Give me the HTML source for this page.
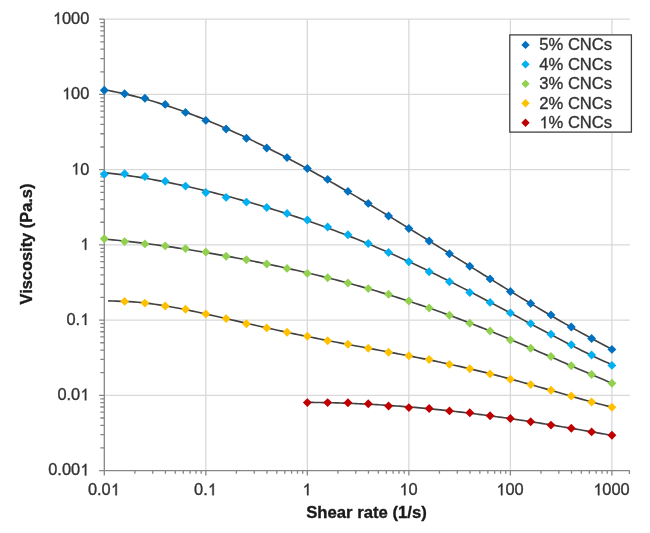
<!DOCTYPE html><html><head><meta charset="utf-8"><style>html,body{margin:0;padding:0;background:#fff}svg{display:block;will-change:transform;filter:blur(0.35px)}text{font-family:"Liberation Sans",sans-serif;stroke-width:0.35px}</style></head><body>
<svg width="650" height="533" viewBox="0 0 650 533">
<rect width="650" height="533" fill="#fff"/>
<path d="M104.30 19.20H629.8 M104.30 94.43H629.8 M104.30 169.66H629.8 M104.30 244.89H629.8 M104.30 320.12H629.8 M104.30 395.35H629.8 M205.82 19.20V470.58 M307.34 19.20V470.58 M408.86 19.20V470.58 M510.38 19.20V470.58 M611.90 19.20V470.58" stroke="#d9d9d9" stroke-width="1.3" fill="none"/>
<path d="M104.30 19.20V470.58H629.8 M99.10 470.58H104.3 M100.30 447.93H104.3 M100.30 434.69H104.3 M100.30 425.29H104.3 M100.30 418.00H104.3 M100.30 412.04H104.3 M100.30 407.00H104.3 M100.30 402.64H104.3 M100.30 398.79H104.3 M99.10 395.35H104.3 M100.30 372.70H104.3 M100.30 359.46H104.3 M100.30 350.06H104.3 M100.30 342.77H104.3 M100.30 336.81H104.3 M100.30 331.77H104.3 M100.30 327.41H104.3 M100.30 323.56H104.3 M99.10 320.12H104.3 M100.30 297.47H104.3 M100.30 284.23H104.3 M100.30 274.83H104.3 M100.30 267.54H104.3 M100.30 261.58H104.3 M100.30 256.54H104.3 M100.30 252.18H104.3 M100.30 248.33H104.3 M99.10 244.89H104.3 M100.30 222.24H104.3 M100.30 209.00H104.3 M100.30 199.60H104.3 M100.30 192.31H104.3 M100.30 186.35H104.3 M100.30 181.31H104.3 M100.30 176.95H104.3 M100.30 173.10H104.3 M99.10 169.66H104.3 M100.30 147.01H104.3 M100.30 133.77H104.3 M100.30 124.37H104.3 M100.30 117.08H104.3 M100.30 111.12H104.3 M100.30 106.08H104.3 M100.30 101.72H104.3 M100.30 97.87H104.3 M99.10 94.43H104.3 M100.30 71.78H104.3 M100.30 58.54H104.3 M100.30 49.14H104.3 M100.30 41.85H104.3 M100.30 35.89H104.3 M100.30 30.85H104.3 M100.30 26.49H104.3 M100.30 22.64H104.3 M99.10 19.20H104.3 M104.30 470.58V475.58 M134.86 470.58V473.78 M152.74 470.58V473.78 M165.42 470.58V473.78 M175.26 470.58V473.78 M183.30 470.58V473.78 M190.09 470.58V473.78 M195.98 470.58V473.78 M201.17 470.58V473.78 M205.82 470.58V475.58 M236.38 470.58V473.78 M254.26 470.58V473.78 M266.94 470.58V473.78 M276.78 470.58V473.78 M284.82 470.58V473.78 M291.61 470.58V473.78 M297.50 470.58V473.78 M302.69 470.58V473.78 M307.34 470.58V475.58 M337.90 470.58V473.78 M355.78 470.58V473.78 M368.46 470.58V473.78 M378.30 470.58V473.78 M386.34 470.58V473.78 M393.13 470.58V473.78 M399.02 470.58V473.78 M404.21 470.58V473.78 M408.86 470.58V475.58 M439.42 470.58V473.78 M457.30 470.58V473.78 M469.98 470.58V473.78 M479.82 470.58V473.78 M487.86 470.58V473.78 M494.65 470.58V473.78 M500.54 470.58V473.78 M505.73 470.58V473.78 M510.38 470.58V475.58 M540.94 470.58V473.78 M558.82 470.58V473.78 M571.50 470.58V473.78 M581.34 470.58V473.78 M589.38 470.58V473.78 M596.17 470.58V473.78 M602.06 470.58V473.78 M607.25 470.58V473.78 M611.90 470.58V475.58 M629.40 470.58V473.98" stroke="#868686" stroke-width="1.3" fill="none"/>
<path d="M104.30 89.74 L108.57 90.50 L112.83 91.32 L117.10 92.19 L121.36 93.11 L125.63 94.07 L129.89 95.08 L134.16 96.13 L138.42 97.23 L142.69 98.37 L146.96 99.56 L151.22 100.79 L155.49 102.06 L159.75 103.37 L164.02 104.72 L168.28 106.11 L172.55 107.54 L176.81 109.01 L181.08 110.51 L185.35 112.05 L189.61 113.63 L193.88 115.24 L198.14 116.89 L202.41 118.57 L206.67 120.28 L210.94 122.02 L215.20 123.80 L219.47 125.61 L223.74 127.45 L228.00 129.32 L232.27 131.21 L236.53 133.14 L240.80 135.10 L245.06 137.08 L249.33 139.09 L253.59 141.12 L257.86 143.18 L262.13 145.27 L266.39 147.38 L270.66 149.51 L274.92 151.67 L279.19 153.85 L283.45 156.06 L287.72 158.28 L291.98 160.53 L296.25 162.80 L300.52 165.08 L304.78 167.39 L309.05 169.72 L313.31 172.06 L317.58 174.42 L321.84 176.80 L326.11 179.20 L330.37 181.61 L334.64 184.04 L338.91 186.48 L343.17 188.94 L347.44 191.42 L351.70 193.90 L355.97 196.40 L360.23 198.92 L364.50 201.44 L368.76 203.98 L373.03 206.53 L377.29 209.09 L381.56 211.66 L385.83 214.24 L390.09 216.82 L394.36 219.42 L398.62 222.02 L402.89 224.64 L407.15 227.25 L411.42 229.88 L415.68 232.51 L419.95 235.15 L424.22 237.79 L428.48 240.43 L432.75 243.08 L437.01 245.73 L441.28 248.38 L445.54 251.04 L449.81 253.70 L454.07 256.35 L458.34 259.01 L462.61 261.67 L466.87 264.32 L471.14 266.98 L475.40 269.63 L479.67 272.28 L483.93 274.93 L488.20 277.57 L492.46 280.20 L496.73 282.83 L501.00 285.46 L505.26 288.08 L509.53 290.69 L513.79 293.29 L518.06 295.88 L522.32 298.47 L526.59 301.04 L530.85 303.60 L535.12 306.16 L539.39 308.69 L543.65 311.22 L547.92 313.73 L552.18 316.23 L556.45 318.71 L560.71 321.17 L564.98 323.62 L569.24 326.05 L573.51 328.46 L577.78 330.85 L582.04 333.22 L586.31 335.57 L590.57 337.90 L594.84 340.20 L599.10 342.49 L603.37 344.74 L607.63 346.97 L611.90 349.17" stroke="#424242" stroke-width="1.65" fill="none" stroke-linejoin="round"/>
<path d="M104.30 172.61 L108.57 173.07 L112.83 173.56 L117.10 174.08 L121.36 174.64 L125.63 175.22 L129.89 175.84 L134.16 176.48 L138.42 177.14 L142.69 177.84 L146.96 178.56 L151.22 179.30 L155.49 180.07 L159.75 180.86 L164.02 181.68 L168.28 182.51 L172.55 183.37 L176.81 184.25 L181.08 185.16 L185.35 186.08 L189.61 187.02 L193.88 187.99 L198.14 188.97 L202.41 189.98 L206.67 191.00 L210.94 192.04 L215.20 193.11 L219.47 194.19 L223.74 195.29 L228.00 196.41 L232.27 197.54 L236.53 198.70 L240.80 199.88 L245.06 201.07 L249.33 202.28 L253.59 203.51 L257.86 204.76 L262.13 206.03 L266.39 207.32 L270.66 208.62 L274.92 209.95 L279.19 211.29 L283.45 212.66 L287.72 214.04 L291.98 215.44 L296.25 216.86 L300.52 218.30 L304.78 219.76 L309.05 221.24 L313.31 222.74 L317.58 224.26 L321.84 225.80 L326.11 227.36 L330.37 228.94 L334.64 230.54 L338.91 232.16 L343.17 233.80 L347.44 235.46 L351.70 237.14 L355.97 238.85 L360.23 240.57 L364.50 242.31 L368.76 244.08 L373.03 245.86 L377.29 247.67 L381.56 249.50 L385.83 251.34 L390.09 253.21 L394.36 255.10 L398.62 257.01 L402.89 258.93 L407.15 260.88 L411.42 262.85 L415.68 264.84 L419.95 266.84 L424.22 268.87 L428.48 270.91 L432.75 272.97 L437.01 275.05 L441.28 277.15 L445.54 279.26 L449.81 281.39 L454.07 283.53 L458.34 285.69 L462.61 287.87 L466.87 290.06 L471.14 292.26 L475.40 294.47 L479.67 296.70 L483.93 298.94 L488.20 301.18 L492.46 303.44 L496.73 305.70 L501.00 307.97 L505.26 310.25 L509.53 312.53 L513.79 314.82 L518.06 317.10 L522.32 319.39 L526.59 321.68 L530.85 323.97 L535.12 326.25 L539.39 328.53 L543.65 330.80 L547.92 333.07 L552.18 335.32 L556.45 337.56 L560.71 339.79 L564.98 342.01 L569.24 344.20 L573.51 346.38 L577.78 348.54 L582.04 350.67 L586.31 352.78 L590.57 354.86 L594.84 356.91 L599.10 358.92 L603.37 360.90 L607.63 362.84 L611.90 364.74" stroke="#424242" stroke-width="1.65" fill="none" stroke-linejoin="round"/>
<path d="M104.30 239.12 L108.57 239.48 L112.83 239.87 L117.10 240.27 L121.36 240.70 L125.63 241.15 L129.89 241.61 L134.16 242.10 L138.42 242.60 L142.69 243.12 L146.96 243.66 L151.22 244.21 L155.49 244.78 L159.75 245.36 L164.02 245.96 L168.28 246.57 L172.55 247.19 L176.81 247.83 L181.08 248.47 L185.35 249.14 L189.61 249.81 L193.88 250.49 L198.14 251.19 L202.41 251.90 L206.67 252.61 L210.94 253.34 L215.20 254.09 L219.47 254.84 L223.74 255.60 L228.00 256.37 L232.27 257.16 L236.53 257.95 L240.80 258.76 L245.06 259.57 L249.33 260.40 L253.59 261.24 L257.86 262.09 L262.13 262.95 L266.39 263.83 L270.66 264.71 L274.92 265.61 L279.19 266.52 L283.45 267.44 L287.72 268.37 L291.98 269.32 L296.25 270.28 L300.52 271.25 L304.78 272.24 L309.05 273.24 L313.31 274.25 L317.58 275.28 L321.84 276.33 L326.11 277.38 L330.37 278.46 L334.64 279.54 L338.91 280.65 L343.17 281.77 L347.44 282.90 L351.70 284.05 L355.97 285.22 L360.23 286.41 L364.50 287.61 L368.76 288.83 L373.03 290.06 L377.29 291.32 L381.56 292.59 L385.83 293.88 L390.09 295.19 L394.36 296.51 L398.62 297.86 L402.89 299.22 L407.15 300.60 L411.42 302.00 L415.68 303.42 L419.95 304.86 L424.22 306.31 L428.48 307.79 L432.75 309.28 L437.01 310.79 L441.28 312.32 L445.54 313.87 L449.81 315.44 L454.07 317.02 L458.34 318.63 L462.61 320.25 L466.87 321.88 L471.14 323.54 L475.40 325.21 L479.67 326.89 L483.93 328.60 L488.20 330.31 L492.46 332.05 L496.73 333.79 L501.00 335.55 L505.26 337.33 L509.53 339.11 L513.79 340.91 L518.06 342.72 L522.32 344.54 L526.59 346.37 L530.85 348.21 L535.12 350.05 L539.39 351.90 L543.65 353.76 L547.92 355.62 L552.18 357.48 L556.45 359.35 L560.71 361.21 L564.98 363.08 L569.24 364.95 L573.51 366.81 L577.78 368.66 L582.04 370.51 L586.31 372.36 L590.57 374.19 L594.84 376.01 L599.10 377.82 L603.37 379.61 L607.63 381.39 L611.90 383.15" stroke="#424242" stroke-width="1.65" fill="none" stroke-linejoin="round"/>
<path d="M108.10 300.90 L112.33 301.04 L116.57 301.18 L120.80 301.31 L125.03 301.45 L129.27 301.64 L133.50 301.90 L137.74 302.24 L141.97 302.64 L146.20 303.11 L150.44 303.63 L154.67 304.21 L158.90 304.83 L163.14 305.50 L167.37 306.22 L171.60 306.96 L175.84 307.75 L180.07 308.56 L184.31 309.40 L188.54 310.27 L192.77 311.15 L197.01 312.06 L201.24 312.98 L205.47 313.92 L209.71 314.86 L213.94 315.82 L218.17 316.78 L222.41 317.75 L226.64 318.72 L230.87 319.70 L235.11 320.67 L239.34 321.65 L243.58 322.62 L247.81 323.59 L252.04 324.55 L256.28 325.51 L260.51 326.47 L264.74 327.42 L268.98 328.36 L273.21 329.29 L277.44 330.21 L281.68 331.13 L285.91 332.04 L290.15 332.94 L294.38 333.83 L298.61 334.71 L302.85 335.58 L307.08 336.45 L311.31 337.30 L315.55 338.15 L319.78 338.99 L324.01 339.82 L328.25 340.65 L332.48 341.47 L336.72 342.28 L340.95 343.09 L345.18 343.89 L349.42 344.69 L353.65 345.48 L357.88 346.27 L362.12 347.06 L366.35 347.85 L370.58 348.64 L374.82 349.42 L379.05 350.21 L383.28 351.00 L387.52 351.79 L391.75 352.59 L395.99 353.39 L400.22 354.20 L404.45 355.01 L408.69 355.82 L412.92 356.65 L417.15 357.48 L421.39 358.32 L425.62 359.18 L429.85 360.04 L434.09 360.91 L438.32 361.80 L442.56 362.69 L446.79 363.60 L451.02 364.52 L455.26 365.46 L459.49 366.41 L463.72 367.37 L467.96 368.35 L472.19 369.35 L476.42 370.36 L480.66 371.38 L484.89 372.42 L489.13 373.48 L493.36 374.55 L497.59 375.63 L501.83 376.73 L506.06 377.85 L510.29 378.98 L514.53 380.12 L518.76 381.27 L522.99 382.44 L527.23 383.61 L531.46 384.80 L535.69 386.00 L539.93 387.20 L544.16 388.41 L548.40 389.63 L552.63 390.85 L556.86 392.07 L561.10 393.29 L565.33 394.51 L569.56 395.73 L573.80 396.94 L578.03 398.14 L582.26 399.34 L586.50 400.51 L590.73 401.68 L594.97 402.82 L599.20 403.94 L603.43 405.04 L607.67 406.10 L611.90 407.14" stroke="#424242" stroke-width="1.65" fill="none" stroke-linejoin="round"/>
<path d="M307.34 402.38 L309.90 402.40 L312.46 402.42 L315.02 402.45 L317.58 402.48 L320.14 402.52 L322.70 402.57 L325.26 402.62 L327.81 402.67 L330.37 402.73 L332.93 402.79 L335.49 402.86 L338.05 402.94 L340.61 403.02 L343.17 403.10 L345.73 403.19 L348.29 403.28 L350.85 403.38 L353.41 403.49 L355.97 403.60 L358.53 403.71 L361.09 403.83 L363.65 403.95 L366.20 404.08 L368.76 404.21 L371.32 404.35 L373.88 404.50 L376.44 404.64 L379.00 404.80 L381.56 404.95 L384.12 405.12 L386.68 405.28 L389.24 405.46 L391.80 405.63 L394.36 405.81 L396.92 406.00 L399.48 406.19 L402.04 406.39 L404.59 406.59 L407.15 406.79 L409.71 407.00 L412.27 407.22 L414.83 407.44 L417.39 407.66 L419.95 407.89 L422.51 408.12 L425.07 408.36 L427.63 408.60 L430.19 408.85 L432.75 409.10 L435.31 409.35 L437.87 409.61 L440.43 409.88 L442.98 410.14 L445.54 410.42 L448.10 410.69 L450.66 410.97 L453.22 411.26 L455.78 411.55 L458.34 411.84 L460.90 412.14 L463.46 412.44 L466.02 412.75 L468.58 413.05 L471.14 413.37 L473.70 413.69 L476.26 414.01 L478.81 414.33 L481.37 414.66 L483.93 414.99 L486.49 415.33 L489.05 415.67 L491.61 416.01 L494.17 416.36 L496.73 416.71 L499.29 417.07 L501.85 417.42 L504.41 417.79 L506.97 418.15 L509.53 418.52 L512.09 418.89 L514.65 419.27 L517.20 419.64 L519.76 420.02 L522.32 420.41 L524.88 420.80 L527.44 421.19 L530.00 421.58 L532.56 421.98 L535.12 422.38 L537.68 422.78 L540.24 423.18 L542.80 423.59 L545.36 424.00 L547.92 424.41 L550.48 424.83 L553.04 425.25 L555.59 425.67 L558.15 426.09 L560.71 426.51 L563.27 426.94 L565.83 427.37 L568.39 427.80 L570.95 428.24 L573.51 428.67 L576.07 429.11 L578.63 429.55 L581.19 429.99 L583.75 430.44 L586.31 430.88 L588.87 431.33 L591.43 431.78 L593.98 432.23 L596.54 432.68 L599.10 433.13 L601.66 433.59 L604.22 434.04 L606.78 434.50 L609.34 434.96 L611.90 435.42" stroke="#424242" stroke-width="1.65" fill="none" stroke-linejoin="round"/>
<path d="M104.30 85.75L108.75 90.20L104.30 94.65L99.85 90.20ZM124.60 89.35L129.05 93.80L124.60 98.25L120.15 93.80ZM144.91 93.75L149.36 98.20L144.91 102.65L140.46 98.20ZM165.21 99.95L169.66 104.40L165.21 108.85L160.76 104.40ZM185.52 107.95L189.97 112.40L185.52 116.85L181.07 112.40ZM205.82 115.95L210.27 120.40L205.82 124.85L201.37 120.40ZM226.12 124.55L230.57 129.00L226.12 133.45L221.67 129.00ZM246.43 133.75L250.88 138.20L246.43 142.65L241.98 138.20ZM266.73 143.55L271.18 148.00L266.73 152.45L262.28 148.00ZM287.04 153.15L291.49 157.60L287.04 162.05L282.59 157.60ZM307.34 164.05L311.79 168.50L307.34 172.95L302.89 168.50ZM327.64 174.95L332.09 179.40L327.64 183.85L323.19 179.40ZM347.95 186.95L352.40 191.40L347.95 195.85L343.50 191.40ZM368.25 198.95L372.70 203.40L368.25 207.85L363.80 203.40ZM388.56 211.55L393.01 216.00L388.56 220.45L384.11 216.00ZM408.86 224.05L413.31 228.50L408.86 232.95L404.41 228.50ZM429.16 236.55L433.61 241.00L429.16 245.45L424.71 241.00ZM449.47 249.25L453.92 253.70L449.47 258.15L445.02 253.70ZM469.77 261.85L474.22 266.30L469.77 270.75L465.32 266.30ZM490.08 274.45L494.53 278.90L490.08 283.35L485.63 278.90ZM510.38 287.05L514.83 291.50L510.38 295.95L505.93 291.50ZM530.68 299.05L535.13 303.50L530.68 307.95L526.23 303.50ZM550.99 310.45L555.44 314.90L550.99 319.35L546.54 314.90ZM571.29 322.55L575.74 327.00L571.29 331.45L566.84 327.00ZM591.60 334.05L596.05 338.50L591.60 342.95L587.15 338.50ZM611.90 344.95L616.35 349.40L611.90 353.85L607.45 349.40Z" fill="#0070C0"/>
<path d="M104.30 169.75L108.75 174.20L104.30 178.65L99.85 174.20ZM124.60 169.35L129.05 173.80L124.60 178.25L120.15 173.80ZM144.91 172.15L149.36 176.60L144.91 181.05L140.46 176.60ZM165.21 176.75L169.66 181.20L165.21 185.65L160.76 181.20ZM185.52 181.65L189.97 186.10L185.52 190.55L181.07 186.10ZM205.82 188.05L210.27 192.50L205.82 196.95L201.37 192.50ZM226.12 192.95L230.57 197.40L226.12 201.85L221.67 197.40ZM246.43 197.65L250.88 202.10L246.43 206.55L241.98 202.10ZM266.73 203.05L271.18 207.50L266.73 211.95L262.28 207.50ZM287.04 208.95L291.49 213.40L287.04 217.85L282.59 213.40ZM307.34 215.55L311.79 220.00L307.34 224.45L302.89 220.00ZM327.64 222.55L332.09 227.00L327.64 231.45L323.19 227.00ZM347.95 230.35L352.40 234.80L347.95 239.25L343.50 234.80ZM368.25 239.05L372.70 243.50L368.25 247.95L363.80 243.50ZM388.56 248.05L393.01 252.50L388.56 256.95L384.11 252.50ZM408.86 257.25L413.31 261.70L408.86 266.15L404.41 261.70ZM429.16 267.35L433.61 271.80L429.16 276.25L424.71 271.80ZM449.47 277.35L453.92 281.80L449.47 286.25L445.02 281.80ZM469.77 288.05L474.22 292.50L469.77 296.95L465.32 292.50ZM490.08 297.95L494.53 302.40L490.08 306.85L485.63 302.40ZM510.38 308.45L514.83 312.90L510.38 317.35L505.93 312.90ZM530.68 319.15L535.13 323.60L530.68 328.05L526.23 323.60ZM550.99 329.75L555.44 334.20L550.99 338.65L546.54 334.20ZM571.29 340.35L575.74 344.80L571.29 349.25L566.84 344.80ZM591.60 350.55L596.05 355.00L591.60 359.45L587.15 355.00ZM611.90 360.95L616.35 365.40L611.90 369.85L607.45 365.40Z" fill="#00B0F0"/>
<path d="M104.30 234.25L108.75 238.70L104.30 243.15L99.85 238.70ZM124.60 237.15L129.05 241.60L124.60 246.05L120.15 241.60ZM144.91 239.45L149.36 243.90L144.91 248.35L140.46 243.90ZM165.21 241.45L169.66 245.90L165.21 250.35L160.76 245.90ZM185.52 244.15L189.97 248.60L185.52 253.05L181.07 248.60ZM205.82 247.65L210.27 252.10L205.82 256.55L201.37 252.10ZM226.12 251.85L230.57 256.30L226.12 260.75L221.67 256.30ZM246.43 255.25L250.88 259.70L246.43 264.15L241.98 259.70ZM266.73 259.55L271.18 264.00L266.73 268.45L262.28 264.00ZM287.04 263.95L291.49 268.40L287.04 272.85L282.59 268.40ZM307.34 268.95L311.79 273.40L307.34 277.85L302.89 273.40ZM327.64 273.35L332.09 277.80L327.64 282.25L323.19 277.80ZM347.95 278.55L352.40 283.00L347.95 287.45L343.50 283.00ZM368.25 284.15L372.70 288.60L368.25 293.05L363.80 288.60ZM388.56 289.75L393.01 294.20L388.56 298.65L384.11 294.20ZM408.86 296.55L413.31 301.00L408.86 305.45L404.41 301.00ZM429.16 303.55L433.61 308.00L429.16 312.45L424.71 308.00ZM449.47 310.85L453.92 315.30L449.47 319.75L445.02 315.30ZM469.77 318.75L474.22 323.20L469.77 327.65L465.32 323.20ZM490.08 326.55L494.53 331.00L490.08 335.45L485.63 331.00ZM510.38 335.55L514.83 340.00L510.38 344.45L505.93 340.00ZM530.68 343.85L535.13 348.30L530.68 352.75L526.23 348.30ZM550.99 352.05L555.44 356.50L550.99 360.95L546.54 356.50ZM571.29 361.35L575.74 365.80L571.29 370.25L566.84 365.80ZM591.60 370.05L596.05 374.50L591.60 378.95L587.15 374.50ZM611.90 378.85L616.35 383.30L611.90 387.75L607.45 383.30Z" fill="#92D050"/>
<path d="M124.60 296.95L129.05 301.40L124.60 305.85L120.15 301.40ZM144.91 298.65L149.36 303.10L144.91 307.55L140.46 303.10ZM165.21 301.55L169.66 306.00L165.21 310.45L160.76 306.00ZM185.52 304.75L189.97 309.20L185.52 313.65L181.07 309.20ZM205.82 309.45L210.27 313.90L205.82 318.35L201.37 313.90ZM226.12 314.15L230.57 318.60L226.12 323.05L221.67 318.60ZM246.43 319.25L250.88 323.70L246.43 328.15L241.98 323.70ZM266.73 323.45L271.18 327.90L266.73 332.35L262.28 327.90ZM287.04 327.85L291.49 332.30L287.04 336.75L282.59 332.30ZM307.34 331.85L311.79 336.30L307.34 340.75L302.89 336.30ZM327.64 336.25L332.09 340.70L327.64 345.15L323.19 340.70ZM347.95 339.75L352.40 344.20L347.95 348.65L343.50 344.20ZM368.25 343.75L372.70 348.20L368.25 352.65L363.80 348.20ZM388.56 347.75L393.01 352.20L388.56 356.65L384.11 352.20ZM408.86 351.25L413.31 355.70L408.86 360.15L404.41 355.70ZM429.16 355.05L433.61 359.50L429.16 363.95L424.71 359.50ZM449.47 359.95L453.92 364.40L449.47 368.85L445.02 364.40ZM469.77 364.35L474.22 368.80L469.77 373.25L465.32 368.80ZM490.08 369.45L494.53 373.90L490.08 378.35L485.63 373.90ZM510.38 374.75L514.83 379.20L510.38 383.65L505.93 379.20ZM530.68 380.15L535.13 384.60L530.68 389.05L526.23 384.60ZM550.99 385.75L555.44 390.20L550.99 394.65L546.54 390.20ZM571.29 391.55L575.74 396.00L571.29 400.45L566.84 396.00ZM591.60 397.55L596.05 402.00L591.60 406.45L587.15 402.00ZM611.90 402.75L616.35 407.20L611.90 411.65L607.45 407.20Z" fill="#FFC000"/>
<path d="M307.34 398.15L311.79 402.60L307.34 407.05L302.89 402.60ZM327.64 398.15L332.09 402.60L327.64 407.05L323.19 402.60ZM347.95 398.35L352.40 402.80L347.95 407.25L343.50 402.80ZM368.25 399.35L372.70 403.80L368.25 408.25L363.80 403.80ZM388.56 401.55L393.01 406.00L388.56 410.45L384.11 406.00ZM408.86 403.15L413.31 407.60L408.86 412.05L404.41 407.60ZM429.16 404.05L433.61 408.50L429.16 412.95L424.71 408.50ZM449.47 406.45L453.92 410.90L449.47 415.35L445.02 410.90ZM469.77 408.35L474.22 412.80L469.77 417.25L465.32 412.80ZM490.08 411.25L494.53 415.70L490.08 420.15L485.63 415.70ZM510.38 414.05L514.83 418.50L510.38 422.95L505.93 418.50ZM530.68 417.35L535.13 421.80L530.68 426.25L526.23 421.80ZM550.99 420.65L555.44 425.10L550.99 429.55L546.54 425.10ZM571.29 423.85L575.74 428.30L571.29 432.75L566.84 428.30ZM591.60 427.45L596.05 431.90L591.60 436.35L587.15 431.90ZM611.90 430.85L616.35 435.30L611.90 439.75L607.45 435.30Z" fill="#C00000"/>
<text x="52.82" y="24.10" font-size="16.4" fill="#333" stroke="#333" stroke-width="0.35" style="font-kerning:none"> 000</text><path transform="translate(52.82 24.10) scale(0.008008 -0.008008)" d="M763 0L583 0L583 1147Q520 1087 428 1026Q336 966 260 931L260 1105Q390 1174 490 1269Q590 1364 636 1450L763 1450Z" fill="#333" stroke="#333" stroke-width="43.7"/>
<text x="61.94" y="99.33" font-size="16.4" fill="#333" stroke="#333" stroke-width="0.35" style="font-kerning:none"> 00</text><path transform="translate(61.94 99.33) scale(0.008008 -0.008008)" d="M763 0L583 0L583 1147Q520 1087 428 1026Q336 966 260 931L260 1105Q390 1174 490 1269Q590 1364 636 1450L763 1450Z" fill="#333" stroke="#333" stroke-width="43.7"/>
<text x="71.06" y="174.56" font-size="16.4" fill="#333" stroke="#333" stroke-width="0.35" style="font-kerning:none"> 0</text><path transform="translate(71.06 174.56) scale(0.008008 -0.008008)" d="M763 0L583 0L583 1147Q520 1087 428 1026Q336 966 260 931L260 1105Q390 1174 490 1269Q590 1364 636 1450L763 1450Z" fill="#333" stroke="#333" stroke-width="43.7"/>
<text x="80.18" y="249.79" font-size="16.4" fill="#333" stroke="#333" stroke-width="0.35" style="font-kerning:none"> </text><path transform="translate(80.18 249.79) scale(0.008008 -0.008008)" d="M763 0L583 0L583 1147Q520 1087 428 1026Q336 966 260 931L260 1105Q390 1174 490 1269Q590 1364 636 1450L763 1450Z" fill="#333" stroke="#333" stroke-width="43.7"/>
<text x="66.50" y="325.02" font-size="16.4" fill="#333" stroke="#333" stroke-width="0.35" style="font-kerning:none">0. </text><path transform="translate(80.18 325.02) scale(0.008008 -0.008008)" d="M763 0L583 0L583 1147Q520 1087 428 1026Q336 966 260 931L260 1105Q390 1174 490 1269Q590 1364 636 1450L763 1450Z" fill="#333" stroke="#333" stroke-width="43.7"/>
<text x="57.38" y="400.25" font-size="16.4" fill="#333" stroke="#333" stroke-width="0.35" style="font-kerning:none">0.0 </text><path transform="translate(80.18 400.25) scale(0.008008 -0.008008)" d="M763 0L583 0L583 1147Q520 1087 428 1026Q336 966 260 931L260 1105Q390 1174 490 1269Q590 1364 636 1450L763 1450Z" fill="#333" stroke="#333" stroke-width="43.7"/>
<text x="48.26" y="475.48" font-size="16.4" fill="#333" stroke="#333" stroke-width="0.35" style="font-kerning:none">0.00 </text><path transform="translate(80.18 475.48) scale(0.008008 -0.008008)" d="M763 0L583 0L583 1147Q520 1087 428 1026Q336 966 260 931L260 1105Q390 1174 490 1269Q590 1364 636 1450L763 1450Z" fill="#333" stroke="#333" stroke-width="43.7"/>
<text x="87.94" y="495.20" font-size="16.4" fill="#333" stroke="#333" stroke-width="0.35" style="font-kerning:none">0.0 </text><path transform="translate(110.74 495.20) scale(0.008008 -0.008008)" d="M763 0L583 0L583 1147Q520 1087 428 1026Q336 966 260 931L260 1105Q390 1174 490 1269Q590 1364 636 1450L763 1450Z" fill="#333" stroke="#333" stroke-width="43.7"/>
<text x="194.02" y="495.20" font-size="16.4" fill="#333" stroke="#333" stroke-width="0.35" style="font-kerning:none">0. </text><path transform="translate(207.70 495.20) scale(0.008008 -0.008008)" d="M763 0L583 0L583 1147Q520 1087 428 1026Q336 966 260 931L260 1105Q390 1174 490 1269Q590 1364 636 1450L763 1450Z" fill="#333" stroke="#333" stroke-width="43.7"/>
<text x="302.38" y="495.20" font-size="16.4" fill="#333" stroke="#333" stroke-width="0.35" style="font-kerning:none"> </text><path transform="translate(302.38 495.20) scale(0.008008 -0.008008)" d="M763 0L583 0L583 1147Q520 1087 428 1026Q336 966 260 931L260 1105Q390 1174 490 1269Q590 1364 636 1450L763 1450Z" fill="#333" stroke="#333" stroke-width="43.7"/>
<text x="399.34" y="495.20" font-size="16.4" fill="#333" stroke="#333" stroke-width="0.35" style="font-kerning:none"> 0</text><path transform="translate(399.34 495.20) scale(0.008008 -0.008008)" d="M763 0L583 0L583 1147Q520 1087 428 1026Q336 966 260 931L260 1105Q390 1174 490 1269Q590 1364 636 1450L763 1450Z" fill="#333" stroke="#333" stroke-width="43.7"/>
<text x="496.30" y="495.20" font-size="16.4" fill="#333" stroke="#333" stroke-width="0.35" style="font-kerning:none"> 00</text><path transform="translate(496.30 495.20) scale(0.008008 -0.008008)" d="M763 0L583 0L583 1147Q520 1087 428 1026Q336 966 260 931L260 1105Q390 1174 490 1269Q590 1364 636 1450L763 1450Z" fill="#333" stroke="#333" stroke-width="43.7"/>
<text x="593.26" y="495.20" font-size="16.4" fill="#333" stroke="#333" stroke-width="0.35" style="font-kerning:none"> 000</text><path transform="translate(593.26 495.20) scale(0.008008 -0.008008)" d="M763 0L583 0L583 1147Q520 1087 428 1026Q336 966 260 931L260 1105Q390 1174 490 1269Q590 1364 636 1450L763 1450Z" fill="#333" stroke="#333" stroke-width="43.7"/>
<text x="366.5" y="518" font-size="16.7" font-weight="bold" fill="#1a1a1a" stroke="#1a1a1a" text-anchor="middle">Shear rate (1/s)</text>
<text transform="translate(31.6,244) rotate(-90)" font-size="16.4" font-weight="bold" fill="#1a1a1a" stroke="#1a1a1a" text-anchor="middle">Viscosity (Pa.s)</text>
<rect x="509.8" y="34.9" width="121.6" height="97.2" fill="#fff" stroke="#404040" stroke-width="1.3"/>
<path d="M525.5 40.699999999999996L529.7 44.9L525.5 49.1L521.3 44.9Z" fill="#0070C0"/>
<text x="539.30" y="50.40" font-size="16.6" fill="#333" stroke="#333" stroke-width="0.35" style="font-kerning:none">5% CNCs</text>
<path d="M525.5 60.17L529.7 64.37L525.5 68.57000000000001L521.3 64.37Z" fill="#00B0F0"/>
<text x="539.30" y="69.87" font-size="16.6" fill="#333" stroke="#333" stroke-width="0.35" style="font-kerning:none">4% CNCs</text>
<path d="M525.5 79.64L529.7 83.84L525.5 88.04L521.3 83.84Z" fill="#92D050"/>
<text x="539.30" y="89.34" font-size="16.6" fill="#333" stroke="#333" stroke-width="0.35" style="font-kerning:none">3% CNCs</text>
<path d="M525.5 99.11L529.7 103.31L525.5 107.51L521.3 103.31Z" fill="#FFC000"/>
<text x="539.30" y="108.81" font-size="16.6" fill="#333" stroke="#333" stroke-width="0.35" style="font-kerning:none">2% CNCs</text>
<path d="M525.5 118.58L529.7 122.78L525.5 126.98L521.3 122.78Z" fill="#C00000"/>
<text x="539.30" y="128.28" font-size="16.6" fill="#333" stroke="#333" stroke-width="0.35" style="font-kerning:none"> % CNCs</text><path transform="translate(539.30 128.28) scale(0.008105 -0.008105)" d="M763 0L583 0L583 1147Q520 1087 428 1026Q336 966 260 931L260 1105Q390 1174 490 1269Q590 1364 636 1450L763 1450Z" fill="#333" stroke="#333" stroke-width="43.2"/>
</svg></body></html>
